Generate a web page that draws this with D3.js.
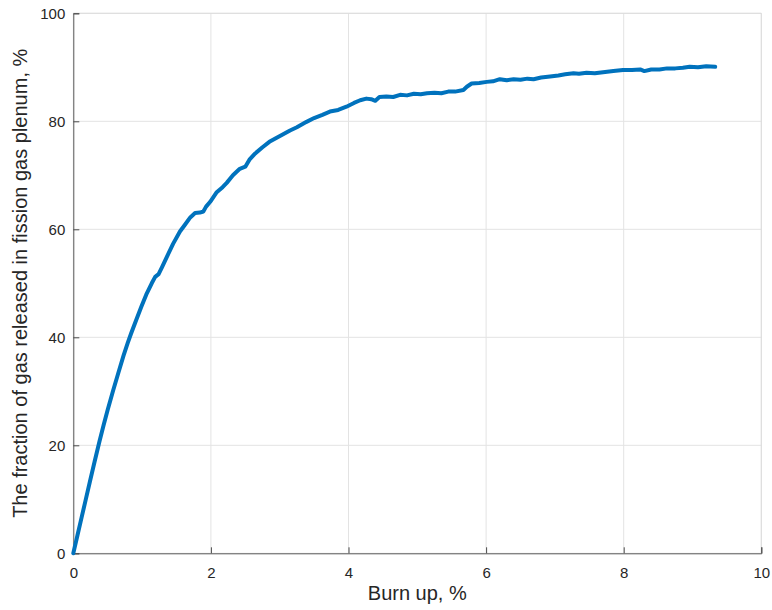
<!DOCTYPE html>
<html><head><meta charset="utf-8">
<script src="https://cdn.jsdelivr.net/npm/d3@7"></script>
<style>body{margin:0;background:#fff;} text{font-family:"Liberation Sans",Arial,sans-serif;}</style>
</head><body>
<svg id="c" width="772" height="610"></svg>
<script>
const burnup = [0,0.06,0.12,0.18,0.24,0.31,0.38,0.44,0.50,0.58,0.65,0.73,0.79,0.84,0.92,0.99,1.06,1.14,1.19,1.24,1.29,1.36,1.45,1.55,1.62,1.70,1.77,1.84,1.89,1.93,1.99,2.08,2.17,2.23,2.32,2.42,2.50,2.56,2.64,2.75,2.85,2.95,3.05,3.15,3.25,3.39,3.50,3.62,3.73,3.85,3.97,4.08,4.17,4.26,4.33,4.39,4.45,4.55,4.65,4.75,4.85,4.95,5.05,5.14,5.25,5.35,5.45,5.55,5.67,5.72,5.79,5.90,6.01,6.10,6.20,6.30,6.40,6.50,6.60,6.69,6.80,6.93,7.05,7.15,7.27,7.35,7.46,7.58,7.70,7.85,7.99,8.12,8.24,8.30,8.40,8.52,8.63,8.75,8.86,8.96,9.08,9.20,9.33];
const released = [0,3.3,6.6,9.9,13.2,17.0,20.7,23.7,26.6,30.2,33.2,36.6,38.9,40.7,43.4,45.7,47.9,50.0,51.2,51.7,53.0,54.9,57.3,59.6,60.8,62.2,63.0,63.1,63.3,64.2,65.1,66.8,67.8,68.6,70.0,71.2,71.6,72.9,74.0,75.2,76.2,76.9,77.6,78.3,78.9,79.9,80.6,81.2,81.8,82.1,82.7,83.4,83.9,84.2,84.1,83.8,84.5,84.6,84.5,84.9,84.8,85.1,85.0,85.2,85.3,85.2,85.5,85.5,85.8,86.4,87.0,87.1,87.3,87.4,87.8,87.6,87.8,87.7,87.9,87.8,88.1,88.3,88.5,88.7,88.9,88.8,89.0,88.9,89.1,89.3,89.5,89.5,89.6,89.3,89.6,89.6,89.8,89.8,89.9,90.1,90.0,90.2,90.1];
const xTicks = [0,2,4,6,8,10];
const yTicks = [0,20,40,60,80,100];
const xLabel = "Burn up, %";
const yLabel = "The fraction of gas released in fission gas plenum, %";

const svg = d3.select("#c");
const L = 73.3, R = 761.3, T = 13.3, B = 553.3;
const x = d3.scaleLinear().domain([0,10]).range([L,R]);
const y = d3.scaleLinear().domain([0,100]).range([B,T]);

// grid
svg.append("g").selectAll("line").data(xTicks).join("line")
  .attr("x1",d=>x(d)).attr("x2",d=>x(d)).attr("y1",T).attr("y2",B)
  .attr("stroke","#e3e3e3").attr("stroke-width",1);
svg.append("g").selectAll("line").data(yTicks).join("line")
  .attr("x1",L).attr("x2",R).attr("y1",d=>y(d)).attr("y2",d=>y(d))
  .attr("stroke","#e3e3e3").attr("stroke-width",1);
// box top/right
svg.append("line").attr("x1",L).attr("x2",R).attr("y1",T).attr("y2",T).attr("stroke","#dcdcdc");
svg.append("line").attr("x1",R).attr("x2",R).attr("y1",T).attr("y2",B).attr("stroke","#dcdcdc");

// axes
const xa = svg.append("g").attr("transform",`translate(0,${B})`)
  .call(d3.axisBottom(x).tickValues(xTicks).tickSize(-6).tickPadding(14).tickFormat(d3.format("d")));
const ya = svg.append("g").attr("transform",`translate(${L},0)`)
  .call(d3.axisLeft(y).tickValues(yTicks).tickSize(-6).tickPadding(8).tickFormat(d3.format("d")));
[xa,ya].forEach(a=>{
  a.select(".domain").attr("stroke","#5a5a5a");
  a.selectAll(".tick line").attr("stroke","#4a4a4a");
  a.selectAll(".tick text").attr("fill","#262626").attr("font-size",15)
   .style("font-family",'"Liberation Sans",Arial,sans-serif');
});

// line
svg.append("path").datum(burnup.map((b,i)=>[b,released[i]]))
  .attr("fill","none").attr("stroke","#0072BD").attr("stroke-width",4)
  .attr("stroke-linejoin","round").attr("stroke-linecap","round")
  .attr("d",d3.line().x(d=>x(d[0])).y(d=>y(d[1])));

// labels
svg.append("text").attr("x",(L+R)/2).attr("y",600).attr("text-anchor","middle")
  .attr("font-size",20).attr("fill","#262626").text(xLabel);
svg.append("text").attr("transform",`translate(27,${(T+B)/2}) rotate(-90)`)
  .attr("text-anchor","middle").attr("font-size",20).attr("fill","#262626").text(yLabel);
</script>
</body></html>
